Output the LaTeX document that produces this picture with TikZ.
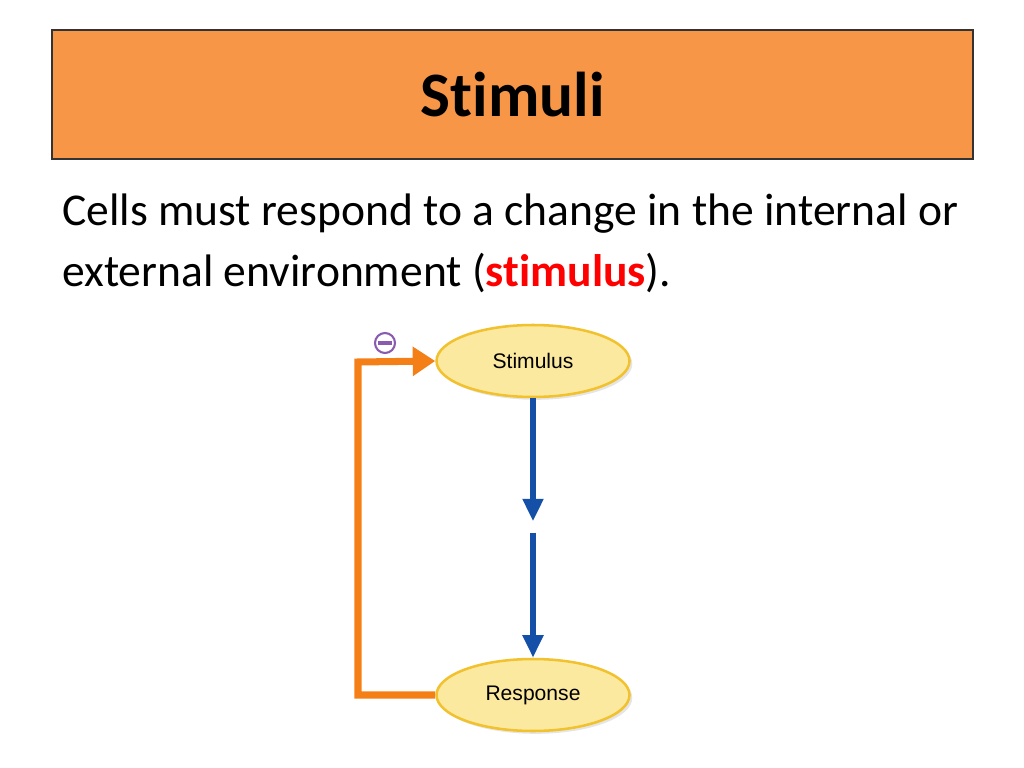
\documentclass[tikz,border=0pt]{standalone}
\usepackage{fontspec}
\setmainfont{Carlito}[Ligatures=NoCommon]
\usepackage{xcolor}
\usetikzlibrary{arrows.meta,shapes.geometric,shadows}
\definecolor{titleorange}{HTML}{F79646}
\definecolor{ovalfill}{HTML}{FCE9A0}
\definecolor{ovaldraw}{HTML}{F2C12E}
\definecolor{loopcol}{HTML}{F57F17}
\definecolor{flowcol}{HTML}{1450A8}
\definecolor{minuscol}{HTML}{8A5AB0}
\begin{document}
\begin{tikzpicture}[x=0.025cm,y=-0.025cm,
    oval/.style={ellipse,draw=ovaldraw,line width=1.8pt,fill=ovalfill,minimum width=193*0.025cm,minimum height=72*0.025cm,
        font=\fontspec{Liberation Sans}\fontsize{15}{17}\selectfont,drop shadow={shadow xshift=2pt,shadow yshift=-2pt,fill=gray!40}},
    flow/.style={draw=flowcol,line width=4pt,-{Triangle[length=16pt,width=14pt]}},
    loop/.style={draw=loopcol,line width=5pt,-{Triangle[length=16pt,width=20pt]}}]
    \useasboundingbox (0,0) rectangle (1024,768);
    \node [draw=black!80,fill=titleorange,line width=0.8pt,minimum width=921*0.025cm,minimum height=129*0.025cm,
        font=\bfseries\fontsize{45}{54}\selectfont] (T) at (512.5,94.5) {Stimuli};
    \node [anchor=north west,align=left,font=\fontsize{32.4}{43}\selectfont,inner sep=0pt] (D) at (62,194)
        {Cells must respond to a change in the internal or\\external environment ({\color{red}\bfseries stimulus}).};
    \node [oval] (S) at (533,361) {Stimulus};
    \node [oval] (R) at (533,695) {Response};
    \coordinate (M) at (533,527);
    \draw [flow] (S.south) -- ([yshift=4pt]M);
    \draw [flow] ([yshift=-4pt]M) -- (R.north);
    \coordinate (BL) at (358,695);
    \coordinate (TL) at (358,362);
    \draw [loop] (R.west) -- (BL) -- (TL) -- (S.west);
    \node [circle,draw=minuscol,line width=1.5pt,minimum size=20*0.025cm,inner sep=0pt] (N) at (385,343) {};
    \draw [minuscol,line width=2.5pt] ([xshift=-5pt]N.center) -- ([xshift=5pt]N.center);
\end{tikzpicture}
\end{document}
